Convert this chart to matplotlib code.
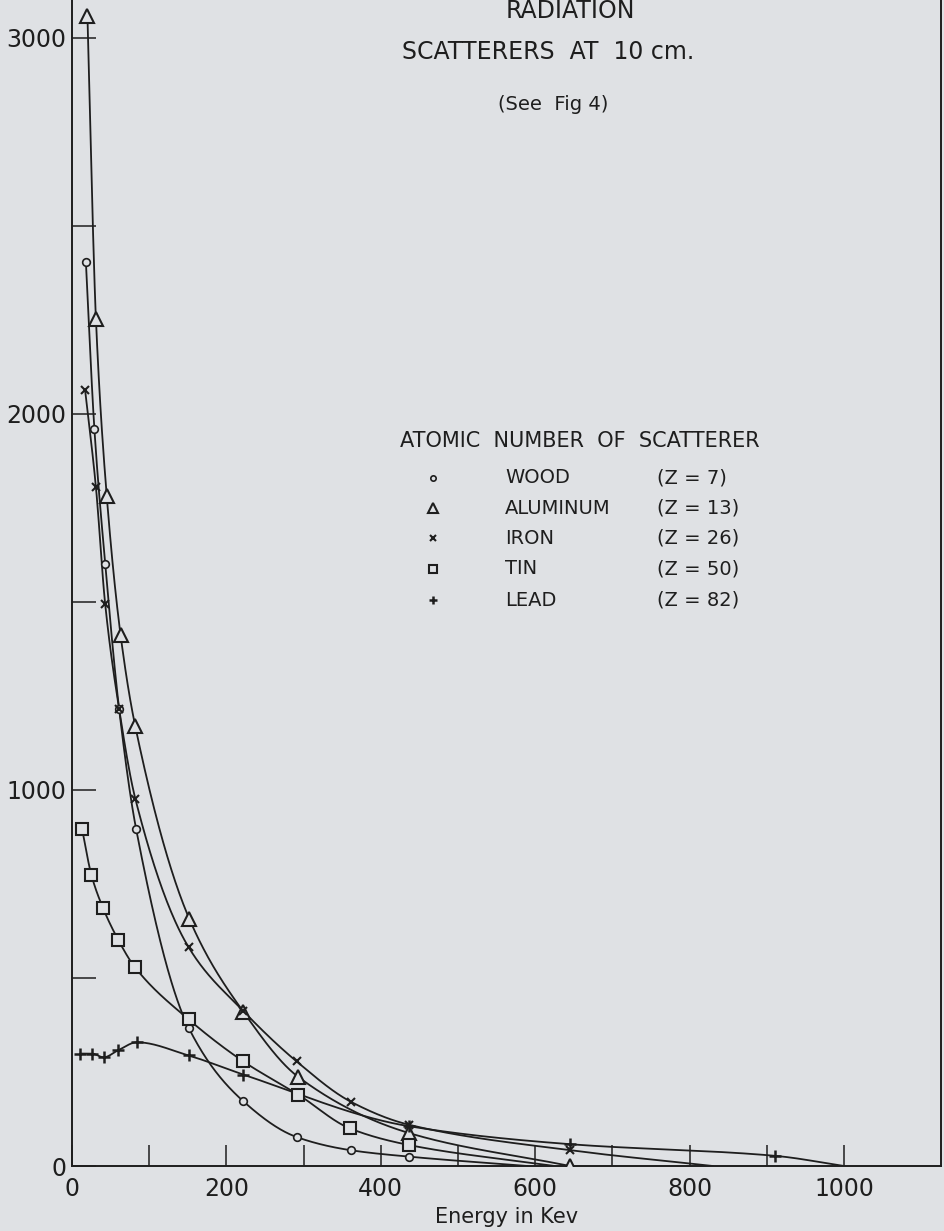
import matplotlib
matplotlib.use("Agg")
import matplotlib.pyplot as plt
import numpy as np

# values (energy in keV, intensity)
wood_e = [18, 29, 43, 61, 83, 151, 222, 291, 361, 436, 590]
wood_v = [2404, 1960, 1602, 1216, 897, 368, 172, 77, 42, 25, 0]

alum_e = [20, 31, 45, 63, 82, 152, 222, 293, 436, 645]
alum_v = [3059, 2252, 1782, 1411, 1169, 657, 410, 237, 88, 0]

iron_e = [17, 31, 43, 61, 82, 151, 222, 291, 362, 436, 645, 830]
iron_v = [2063, 1805, 1494, 1216, 977, 582, 412, 278, 170, 110, 42, 0]

tin_e = [13, 25, 40, 60, 81, 151, 222, 293, 360, 436, 625]
tin_v = [897, 775, 687, 601, 530, 390, 278, 190, 100, 56, 0]

lead_e = [11, 26, 41, 60, 84, 151, 222, 436, 645, 911, 1000]
lead_v = [299, 299, 289, 308, 329, 294, 243, 106, 58, 27, 0]

# last point of these curves is where the line meets the axis (no marker)
no_marker_end = {"wood": True, "alum": False, "iron": True, "tin": True, "lead": True}

legend_names = ["WOOD", "ALUMINUM", "IRON", "TIN", "LEAD"]
legend_z = ["(Z = 7)", "(Z = 13)", "(Z = 26)", "(Z = 50)", "(Z = 82)"]

BG = "#dfe1e4"
INK = "#1e1e1e"


def pchip(x, y, xs):
    x = np.asarray(x, float)
    y = np.asarray(y, float)
    h = np.diff(x)
    d = np.diff(y) / h
    m = np.zeros_like(y)
    for k in range(1, len(x) - 1):
        if d[k - 1] * d[k] > 0:
            w1 = 2 * h[k] + h[k - 1]
            w2 = h[k] + 2 * h[k - 1]
            m[k] = (w1 + w2) / (w1 / d[k - 1] + w2 / d[k])
    m[0] = d[0]
    m[-1] = d[-1]
    idx = np.clip(np.searchsorted(x, xs) - 1, 0, len(x) - 2)
    t = (xs - x[idx]) / h[idx]
    h00 = 2 * t**3 - 3 * t**2 + 1
    h10 = t**3 - 2 * t**2 + t
    h01 = -2 * t**3 + 3 * t**2
    h11 = t**3 - t**2
    return h00 * y[idx] + h10 * h[idx] * m[idx] + h01 * y[idx + 1] + h11 * h[idx] * m[idx + 1]


W, H = 945, 1231
fig = plt.figure(figsize=(W / 100, H / 100), dpi=100, facecolor=BG)
ax = fig.add_axes([72 / W, 1 - 1166 / H, (941 - 72) / W, 1166 / H])
ax.set_facecolor(BG)

series = [
    ("wood", wood_e, wood_v, dict(marker="o", ms=5.5, mfc=BG, mew=1.2)),
    ("alum", alum_e, alum_v, dict(marker="^", ms=10, mfc=BG, mew=1.5)),
    ("iron", iron_e, iron_v, dict(marker="x", ms=6, mew=1.5)),
    ("tin", tin_e, tin_v, dict(marker="s", ms=8, mfc=BG, mew=1.5)),
    ("lead", lead_e, lead_v, dict(marker="+", ms=9, mew=1.8)),
]

for name, e, v, mk in series:
    xs = np.linspace(e[0], e[-1], 600)
    ax.plot(xs, pchip(e, v, xs), color=INK, lw=1.3, zorder=2)
    me = e[:-1] if no_marker_end[name] else e
    mv = v[:-1] if no_marker_end[name] else v
    ax.plot(me, mv, ls="none", color=INK, mec=INK, zorder=3, **mk)

ax.set_xlim(0, (941 - 72) / 0.772)
ax.set_ylim(0, 3101)

ax.set_xticks([0, 200, 400, 600, 800, 1000])
ax.set_xticks(np.arange(100, 1001, 200), minor=True)
ax.set_yticks([0, 1000, 2000, 3000])
ax.set_yticks([500, 1500, 2500], minor=True)
ax.tick_params(axis="x", which="both", direction="in", length=15, width=1.1,
               color=INK, labelsize=17, pad=8, labelcolor=INK)
ax.tick_params(axis="y", which="both", direction="in", length=17, width=1.1,
               color=INK, labelsize=17, pad=4, labelcolor=INK)
for s in ["left", "bottom", "right"]:
    ax.spines[s].set_color(INK)
    ax.spines[s].set_linewidth(1.4)
ax.spines["top"].set_visible(False)

ax.set_xlabel("Energy in Kev", fontsize=15, color=INK, labelpad=4)


def fx(px):
    return px / W


def fy(py):
    return 1 - py / H


fig.text(fx(570), fy(11), "RADIATION", ha="center", va="center", fontsize=17, color=INK)
fig.text(fx(548), fy(52), "SCATTERERS  AT  10 cm.", ha="center", va="center", fontsize=17, color=INK)
fig.text(fx(553), fy(105), "(See  Fig 4)", ha="center", va="center", fontsize=14, color=INK)

fig.text(fx(580), fy(441), "ATOMIC  NUMBER  OF  SCATTERER", ha="center", va="center",
         fontsize=15, color=INK)
rows_y = [478, 508, 538, 569, 600]
for (name, e, v, mk), label, z, py in zip(series, legend_names, legend_z, rows_y):
    small = dict(mk)
    small["ms"] = mk["ms"] * 0.7
    fig.add_artist(plt.Line2D([fx(433)], [fy(py)], transform=fig.transFigure, ls="none",
                              color=INK, mec=INK, **small))
    fig.text(fx(505), fy(py), label, ha="left", va="center", fontsize=14, color=INK)
    fig.text(fx(657), fy(py), z, ha="left", va="center", fontsize=14, color=INK)

fig.savefig("out.png", dpi=100, facecolor=BG)
